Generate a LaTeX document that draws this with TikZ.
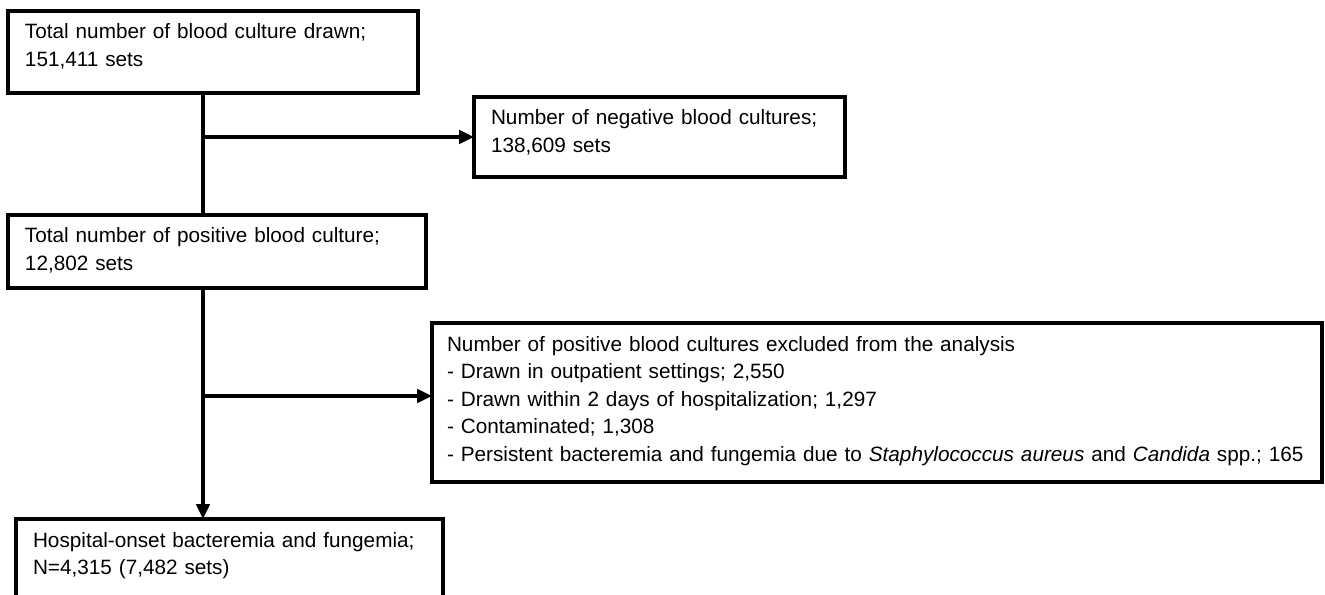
\documentclass[tikz,border=0pt]{standalone}
\usepackage{fontspec}
\setmainfont{Liberation Sans}
\usetikzlibrary{arrows.meta, positioning}

\begin{document}
\begin{tikzpicture}[
  box/.style={rectangle, draw, line width=2.2pt, align=left, anchor=north west,
              inner xsep=0.34cm, inner ysep=0pt, outer sep=0pt, text height=0.56cm,
              font=\fontsize{11.8}{15.65}\selectfont},
  line/.style={line width=1.8pt},
  arrow/.style={line width=1.8pt, -{Triangle[length=0.3cm, width=0.27cm]}},
]
  \useasboundingbox (0,0) rectangle (26.5,-11.9);
  \coordinate (spine) at (4.06,0);

  \node[box, text width=7.52cm, text depth=1.08cm] (drawn) at (0.16,-0.22)
    {Total number of blood culture drawn;\\151,411 sets};
  \node[box, text width=6.74cm, text depth=1.04cm] (negative) at (9.48,-1.94)
    {Number of negative blood cultures;\\138,609 sets};
  \node[box, text width=7.68cm, text depth=0.90cm, below=2.44cm of drawn.south west, anchor=north west] (positive)
    {Total number of positive blood culture;\\12,802 sets};
  \node[box, text width=17.2cm, inner xsep=0.3cm, text depth=2.62cm] (excluded) at (8.64,-6.46)
    {Number of positive blood cultures excluded from the analysis\\
     - Drawn in outpatient settings; 2,550\\
     - Drawn within 2 days of hospitalization; 1,297\\
     - Contaminated; 1,308\\
     \mbox{- Persistent bacteremia and fungemia due to \textit{Staphylococcus aureus} and \textit{Candida} spp.; 165}};
  \node[box, text width=7.86cm, text depth=1.06cm, below=4.62cm of positive.south west, xshift=0.16cm, anchor=north west] (onset)
    {Hospital-onset bacteremia and fungemia;\\N=4,315 (7,482 sets)};

  \draw[line] (drawn.south -| spine) -- (positive.north -| spine);
  \draw[arrow] (spine |- negative.west) -- (negative.west);
  \draw[arrow] (positive.south -| spine) -- (onset.north -| spine);
  \draw[arrow] (spine |- excluded.west) ++(0,0.13) -- ([yshift=0.13cm]excluded.west);
\end{tikzpicture}
\end{document}
